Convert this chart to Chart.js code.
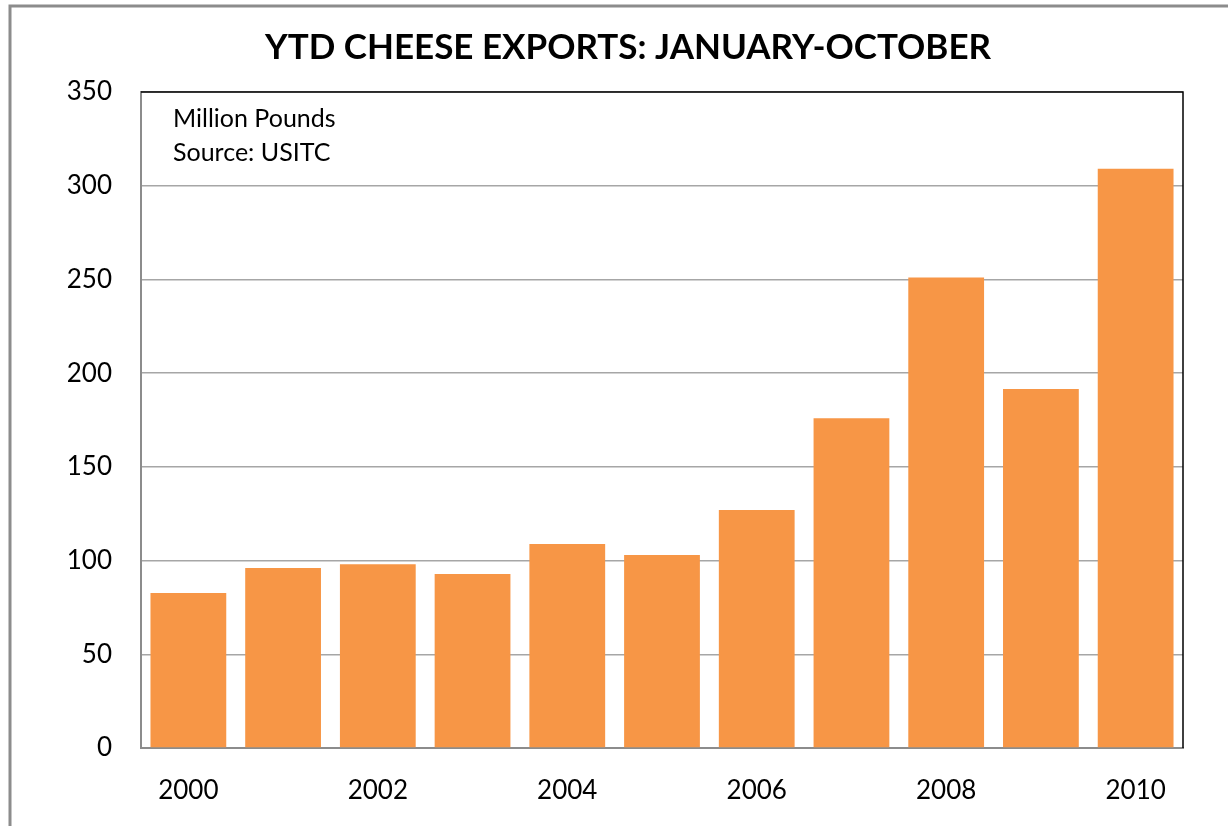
<!DOCTYPE html>
<html>
<head>
<meta charset="utf-8">
<script src="https://cdn.jsdelivr.net/npm/chart.js@4"></script>
<style>
body { margin: 0; background: #fff; }
#wrap { width: 1228px; height: 826px; }
</style>
</head>
<body>
<div id="wrap"><canvas id="chart" width="1228" height="826"></canvas></div>
<script>
var years = ['2000', '2001', '2002', '2003', '2004', '2005', '2006', '2007', '2008', '2009', '2010'];
var exports = [82.7, 96, 98, 92.8, 108.8, 103, 127, 176, 251, 191.5, 309];
var yTicks = [0, 50, 100, 150, 200, 250, 300, 350];
var notes = ['Million Pounds', 'Source: USITC'];
var title = 'YTD CHEESE EXPORTS: JANUARY-OCTOBER';

var fontName = "Lato, 'Open Sans', sans-serif";

var decor = {
    id: 'decor',
    beforeDraw: function(chart) {
        var c = chart.ctx;
        c.save();
        c.fillStyle = '#fff';
        c.fillRect(0, 0, chart.width, chart.height);
        c.strokeStyle = '#8c8c8c';
        c.lineWidth = 3;
        c.strokeRect(10, 6, 1240, 840);
        c.restore();
    },
    afterDraw: function(chart) {
        var c = chart.ctx;
        var a = chart.chartArea;
        c.save();
        c.strokeStyle = '#000';
        c.lineWidth = 1.5;
        c.beginPath();
        c.moveTo(a.left, a.top);
        c.lineTo(a.right, a.top);
        c.lineTo(a.right, a.bottom);
        c.stroke();
        c.fillStyle = '#000';
        c.textBaseline = 'middle';
        c.font = "bold 35px " + fontName;
        c.textAlign = 'center';
        c.fillText(title, 628, 48);
        c.textAlign = 'left';
        c.font = "25px " + fontName;
        for (var i = 0; i < notes.length; i++) {
            c.fillText(notes[i], a.left + 32, a.top + 27 + i * 34);
        }
        c.restore();
    }
};

window.onload = function() {
    var ctx = document.getElementById("chart").getContext("2d");
    var config = {
        type: 'bar',
        data: {
            labels: years,
            datasets: [{
                data: exports,
                backgroundColor: '#F79646',
                borderWidth: 0,
                barPercentage: 0.8,
                categoryPercentage: 1.0
            }]
        },
        options: {
            responsive: false,
            animation: false,
            layout: { padding: { left: 0, right: 45, top: 92, bottom: 0 } },
            plugins: {
                legend: { display: false },
                tooltip: { enabled: false },
                title: { display: false }
            },
            scales: {
                x: {
                    grid: { display: false, drawTicks: false },
                    border: { color: '#8c8c8c', width: 2 },
                    ticks: {
                        color: '#000',
                        autoSkip: false,
                        maxRotation: 0,
                        padding: 27,
                        font: { family: fontName, size: 26 },
                        callback: function(v, i) { return i % 2 === 0 ? years[i] : ''; }
                    },
                    afterFit: function(s) { s.height = 78; }
                },
                y: {
                    min: 0,
                    max: 350,
                    afterBuildTicks: function(s) { s.ticks = yTicks.map(function(v) { return { value: v }; }); },
                    grid: { color: '#a6a6a6', lineWidth: 1.5, drawTicks: false },
                    border: { color: '#8c8c8c', width: 2 },
                    ticks: {
                        color: '#000',
                        padding: 29,
                        font: { family: fontName, size: 26 }
                    },
                    afterFit: function(s) { s.width = 141; }
                }
            }
        },
        plugins: [decor]
    };
    window.myBar = new Chart(ctx, config);
};
</script>
</body>
</html>
